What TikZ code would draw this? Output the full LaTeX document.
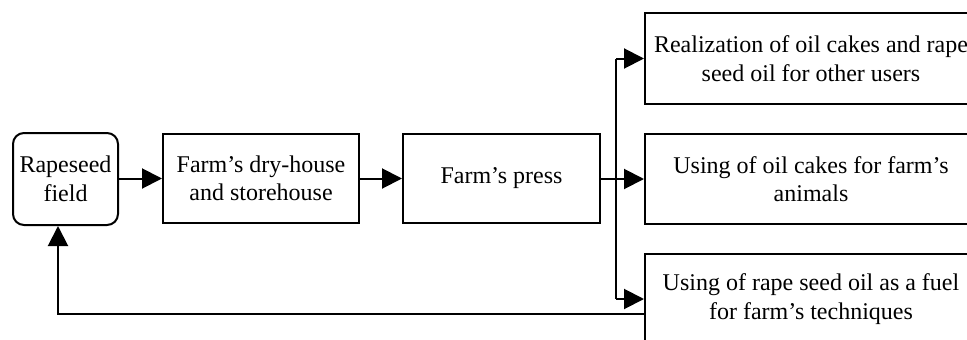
\documentclass[tikz,border=0pt]{standalone}
\usepackage{fontspec}
\setmainfont{Liberation Serif}
\usetikzlibrary{arrows.meta}
\begin{document}
\begin{tikzpicture}[x=1pt,y=-1pt,
  every node/.style={font=\fontsize{24}{28.5}\selectfont, align=center, inner sep=0pt},
  boxstyle/.style={draw, line width=2pt, rectangle},
  arr/.style={line width=2pt, -{Triangle[length=20pt,width=20pt]}},
  ln/.style={line width=2pt}]
\useasboundingbox (0,0) rectangle (967,340);
\clip (0,0) rectangle (967,340);
\node[boxstyle, rounded corners=11pt, minimum width=105pt, minimum height=92pt] (rf) at (65.5,179) {Rapeseed\\field};
\node[boxstyle, minimum width=196pt, minimum height=89pt] (dry) at (261,178.5) {Farm’s dry-house\\and storehouse};
\node[boxstyle, minimum width=197pt, minimum height=89pt] (press) at (501.5,178.5) {Farm’s press};
\node[boxstyle, minimum width=332pt, minimum height=91pt] (top) at (811,58.5) {Realization of oil cakes and rape\\seed oil for other users};
\node[boxstyle, minimum width=332pt, minimum height=90pt] (mid) at (811,179) {Using of oil cakes for farm’s\\animals};
\node[boxstyle, minimum width=332pt, minimum height=90pt] (bot) at (811,299) {Using of rape seed oil as a fuel\\for farm’s techniques};
\coordinate (bus) at (616,179);
\coordinate (fb) at (58,314);
\draw[arr] (rf.east |- dry.west) -- (dry.west);
\draw[arr] (dry.east) -- (press.west);
\draw[arr] (press.east |- mid.west) -- (mid.west);
\draw[ln] (bus |- top.west) -- (bus |- bot.west);
\draw[arr] (bus |- top.west) -- (top.west);
\draw[arr] (bus |- bot.west) -- (bot.west);
\draw[arr] (bot.west |- fb) -- (fb) -- (fb |- rf.south);
\end{tikzpicture}
\end{document}
